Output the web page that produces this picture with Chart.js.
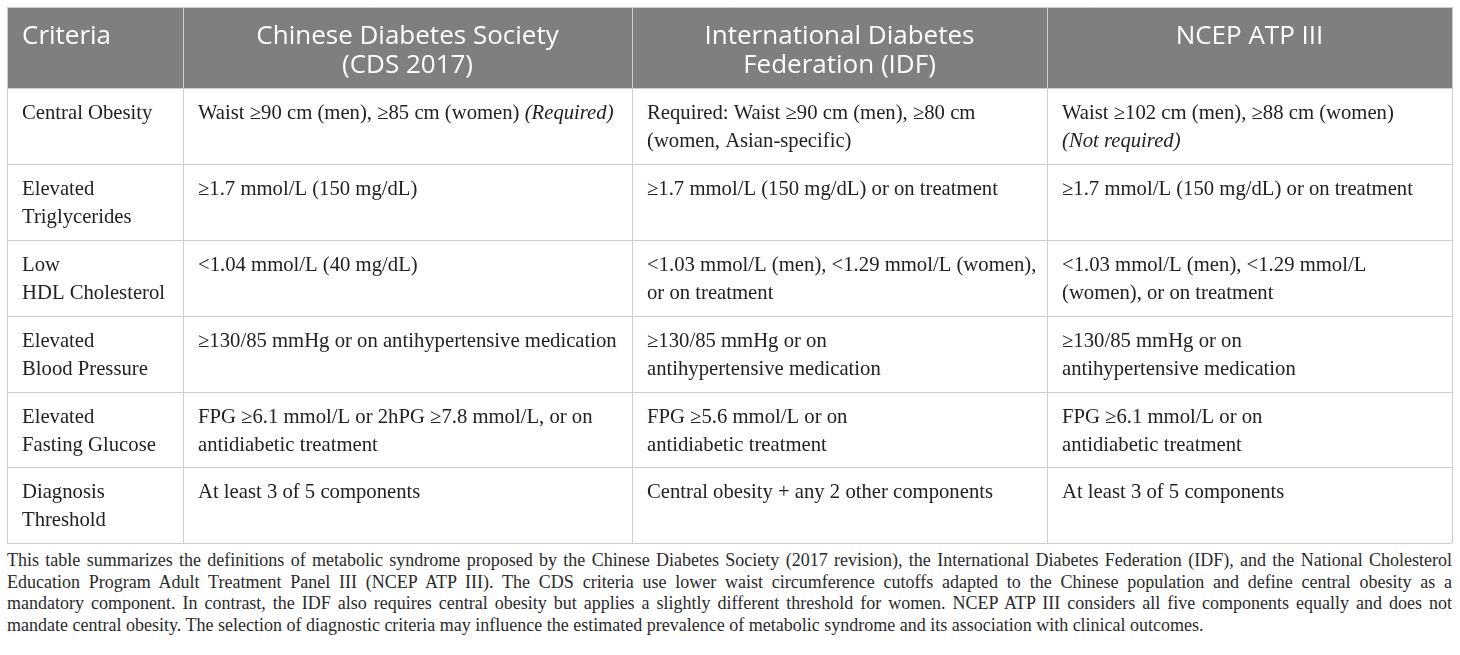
<!DOCTYPE html>
<html>
<head>
<meta charset="utf-8">
<script src="https://cdn.jsdelivr.net/npm/chart.js@4.4.1/dist/chart.umd.min.js"></script>
<style>
  html, body { margin: 0; padding: 0; background: #fff; }
  #wrap { position: absolute; left: 0; top: 0; width: 1460px; height: 550px; }
  #cap {
    position: absolute; left: 7px; top: 550px; width: 1445px; margin: 0;
    font-family: "Liberation Serif", "Times New Roman", serif; font-size: 18px;
    line-height: 21.7px; color: #2a2a2a;
  }
  #cap span { display: block; white-space: nowrap; text-align: justify; text-align-last: justify; }
  #cap span.last { text-align-last: left; }
</style>
</head>
<body>
<div id="wrap"><canvas id="c" width="1460" height="550"></canvas></div>
<p id="cap"><span>This table summarizes the definitions of metabolic syndrome proposed by the Chinese Diabetes Society (2017 revision), the International Diabetes Federation (IDF), and the National Cholesterol</span><span>Education Program Adult Treatment Panel III (NCEP ATP III). The CDS criteria use lower waist circumference cutoffs adapted to the Chinese population and define central obesity as a</span><span>mandatory component. In contrast, the IDF also requires central obesity but applies a slightly different threshold for women. NCEP ATP III considers all five components equally and does not</span><span class="last">mandate central obesity. The selection of diagnostic criteria may influence the estimated prevalence of metabolic syndrome and its association with clinical outcomes.</span></p>
<script>
// ---- table content (text data) ----
const columnHeaders = [
  ['Criteria'],
  ['Chinese Diabetes Society', '(CDS 2017)'],
  ['International Diabetes', 'Federation (IDF)'],
  ['NCEP ATP III']
];
const criteriaLabels = [
  ['Central Obesity'],
  ['Elevated', 'Triglycerides'],
  ['Low', 'HDL Cholesterol'],
  ['Elevated', 'Blood Pressure'],
  ['Elevated', 'Fasting Glucose'],
  ['Diagnosis', 'Threshold']
];
const cdsCriteria = [
  ['Waist ≥90 cm (men), ≥85 cm (women) _(Required)_'],
  ['≥1.7 mmol/L (150 mg/dL)'],
  ['<1.04 mmol/L (40 mg/dL)'],
  ['≥130/85 mmHg or on antihypertensive medication'],
  ['FPG ≥6.1 mmol/L or 2hPG ≥7.8 mmol/L, or on', 'antidiabetic treatment'],
  ['At least 3 of 5 components']
];
const idfCriteria = [
  ['Required: Waist ≥90 cm (men), ≥80 cm', '(women, Asian-specific)'],
  ['≥1.7 mmol/L (150 mg/dL) or on treatment'],
  ['<1.03 mmol/L (men), <1.29 mmol/L (women),', 'or on treatment'],
  ['≥130/85 mmHg or on', 'antihypertensive medication'],
  ['FPG ≥5.6 mmol/L or on', 'antidiabetic treatment'],
  ['Central obesity + any 2 other components']
];
const ncepCriteria = [
  ['Waist ≥102 cm (men), ≥88 cm (women)', '_(Not required)_'],
  ['≥1.7 mmol/L (150 mg/dL) or on treatment'],
  ['<1.03 mmol/L (men), <1.29 mmol/L', '(women), or on treatment'],
  ['≥130/85 mmHg or on', 'antihypertensive medication'],
  ['FPG ≥6.1 mmol/L or on', 'antidiabetic treatment'],
  ['At least 3 of 5 components']
];

// ---- layout (scale units) ----
const colEdges = [0, 176, 625, 1040, 1445];
const rowEdges = [0, 81, 157, 233, 309, 385, 460, 536];
const STYLE = {
  grid: '#cccccc',
  headerFill: '#7f7f7f',
  headerText: '#ffffff',
  bodyText: '#222222',
  headerFont: '400 26px "Open Sans", "DejaVu Sans", sans-serif',
  bodyFont: '20.7px "Liberation Serif", "Times New Roman", serif',
  bodyItalic: 'italic 20.7px "Liberation Serif", "Times New Roman", serif',
  padX: 15,
  headerBase: 37, headerLine: 29,
  bodyBase: 31, bodyLine: 27.5
};

const bodyColumns = [criteriaLabels, cdsCriteria, idfCriteria, ncepCriteria];

function drawRich(ctx, text, x, y) {
  const parts = text.split('_');
  let cx = x;
  parts.forEach((p, i) => {
    if (!p) return;
    ctx.font = (i % 2 === 1) ? STYLE.bodyItalic : STYLE.bodyFont;
    ctx.fillText(p, cx, y);
    cx += ctx.measureText(p).width;
  });
}

const tablePlugin = {
  id: 'tablePlugin',
  beforeDraw(chart) {
    const { ctx, scales: { x, y } } = chart;
    ctx.save();
    ctx.fillStyle = STYLE.headerFill;
    const x0 = x.getPixelForValue(colEdges[0]), x1 = x.getPixelForValue(colEdges[colEdges.length - 1]);
    const y0 = y.getPixelForValue(rowEdges[0]), y1 = y.getPixelForValue(rowEdges[1]);
    ctx.fillRect(x0, y0, x1 - x0, y1 - y0);
    ctx.restore();
  },
  afterDraw(chart) {
    const { ctx, scales: { x, y } } = chart;
    ctx.save();
    ctx.textBaseline = 'alphabetic';
    // header
    ctx.fillStyle = STYLE.headerText;
    ctx.font = STYLE.headerFont;
    const hy = y.getPixelForValue(rowEdges[0]);
    columnHeaders.forEach((lines, c) => {
      const l = x.getPixelForValue(colEdges[c]), r = x.getPixelForValue(colEdges[c + 1]);
      lines.forEach((t, k) => {
        const by = hy + STYLE.headerBase + k * STYLE.headerLine;
        if (c === 0) { ctx.textAlign = 'left'; ctx.fillText(t, l + STYLE.padX, by); }
        else { ctx.textAlign = 'center'; ctx.fillText(t, (l + r) / 2, by); }
      });
    });
    // body
    ctx.textAlign = 'left';
    ctx.fillStyle = STYLE.bodyText;
    bodyColumns.forEach((col, c) => {
      const l = x.getPixelForValue(colEdges[c]);
      col.forEach((lines, r) => {
        const top = y.getPixelForValue(rowEdges[r + 1]);
        lines.forEach((t, k) => {
          drawRich(ctx, t, l + STYLE.padX, top + STYLE.bodyBase + k * STYLE.bodyLine);
        });
      });
    });
    ctx.restore();
  }
};

new Chart(document.getElementById('c'), {
  type: 'scatter',
  data: { datasets: [{ data: [], pointRadius: 0 }] },
  options: {
    responsive: false,
    animation: false,
    events: [],
    layout: { padding: { left: 7, right: 8, top: 7, bottom: 7 } },
    plugins: { legend: { display: false }, tooltip: { enabled: false } },
    scales: {
      x: {
        type: 'linear', min: colEdges[0], max: colEdges[colEdges.length - 1],
        afterBuildTicks: (s) => { s.ticks = colEdges.map(v => ({ value: v })); },
        ticks: { display: false },
        grid: { color: STYLE.grid, lineWidth: 1, drawTicks: false },
        border: { display: false }
      },
      y: {
        type: 'linear', reverse: true, min: rowEdges[0], max: rowEdges[rowEdges.length - 1],
        afterBuildTicks: (s) => { s.ticks = rowEdges.map(v => ({ value: v })); },
        ticks: { display: false },
        grid: { color: STYLE.grid, lineWidth: 1, drawTicks: false },
        border: { display: false }
      }
    }
  },
  plugins: [tablePlugin]
});
</script>
</body>
</html>
